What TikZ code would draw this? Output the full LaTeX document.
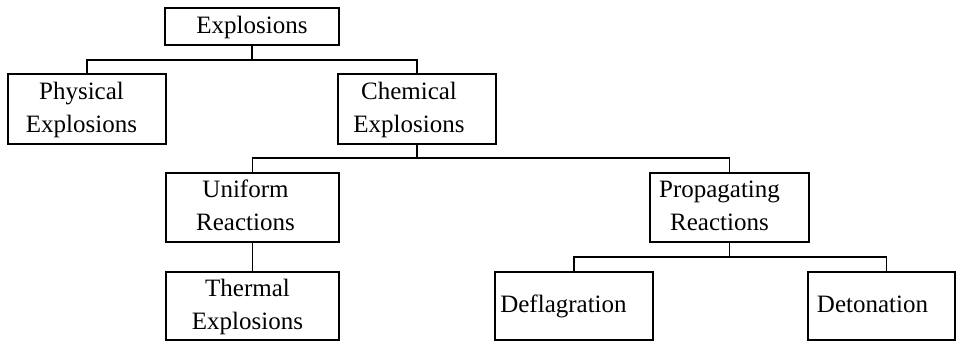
\documentclass[tikz,border=0pt]{standalone}
\usepackage{fontspec}
\setmainfont{Liberation Serif}
% text block shifted left by half of #1
\newcommand\boxtext[2]{\begin{tabular}{@{}c@{\hspace{#1}}}#2\end{tabular}}
\begin{document}
\begin{tikzpicture}[x=1pt, y=-1pt, font=\fontsize{25}{33}\selectfont]
\tikzset{
  blk/.style 2 args={draw, line width=2pt, inner sep=0pt,
    minimum width=#1, minimum height=#2},
  link/.style={line width=1.3pt}
}
\useasboundingbox (0,0) rectangle (956,342);

% boxes
\node[blk={174pt}{37pt}] (expl)  at (252,26.5)    {\boxtext{0pt}{Explosions}};
\node[blk={158pt}{70pt}] (phys)  at (87,109)      {\boxtext{11pt}{Physical\\Explosions}};
\node[blk={158pt}{70pt}] (chem)  at (417,109)     {\boxtext{16pt}{Chemical\\Explosions}};
\node[blk={173pt}{69pt}] (unif)  at (252.5,207.5) {\boxtext{14pt}{Uniform\\Reactions}};
\node[blk={159pt}{69pt}] (prop)  at (729.5,207.5) {\boxtext{20pt}{Propagating\\Reactions}};
\node[blk={173pt}{68pt}] (therm) at (252.5,306)   {\boxtext{10pt}{Thermal\\Explosions}};
\node[blk={158pt}{68pt}] (defl)  at (574,306)     {\boxtext{21pt}{Deflagration}};
\node[blk={147pt}{68pt}] (deto)  at (881.5,306)   {\boxtext{18pt}{Detonation}};

% branch points
\coordinate (j1) at (252,60);
\coordinate (j2) at (417,158);
\coordinate (j3) at (729.5,257);

% connectors
\draw[link] (expl) -- (j1);
\draw[link] (phys.north) |- (j1) -| (chem.north);
\draw[link] (chem) -- (j2);
\draw[link] (unif.north) |- (j2) -| (prop.north);
\draw[link] (unif) -- (therm);
\draw[link] (prop) -- (j3);
\draw[link] (defl.north) |- (j3) -| ([xshift=5pt]deto.north);
\end{tikzpicture}
\end{document}
